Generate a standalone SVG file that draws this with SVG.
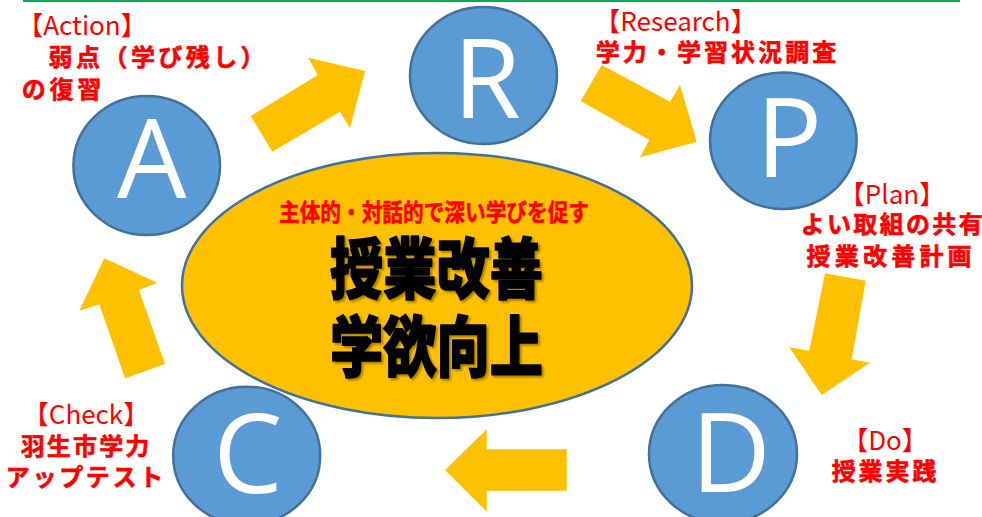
<svg xmlns="http://www.w3.org/2000/svg" width="982" height="517" viewBox="0 0 982 517">
  <defs>
    <style>
      .circ { fill: #5B9BD5; stroke: #41719C; stroke-width: 2.5; }
      .letter { fill: #FFFFFF; font-family: "Open Sans", "Liberation Sans", sans-serif; font-size: 110px; text-anchor: middle; }
      .arrow { fill: #FFC000; }
      .lbl { fill: #FF0000; stroke: #FF0000; stroke-width: 0.6; font-family: "Noto Sans CJK JP", "Noto Sans", sans-serif; font-size: 24px; font-weight: bold; }
      .brk { fill: #FF0000; font-family: "Noto Sans CJK JP", "Noto Sans", sans-serif; font-size: 26px; text-anchor: middle; }
      .big { fill: #000000; stroke: #000000; stroke-width: 1.6; stroke-linejoin: round; font-family: "Noto Sans CJK JP", sans-serif; font-size: 66px; font-weight: 900; }
    </style>
    <filter id="shadow" x="-10%" y="-10%" width="120%" height="130%">
      <feDropShadow dx="2" dy="2" stdDeviation="1" flood-color="#000000" flood-opacity="0.35"/>
    </filter>
  </defs>

  <rect width="982" height="517" fill="#FFFFFF"/>
  <line x1="23" y1="1" x2="960" y2="1" stroke="#00B050" stroke-width="2"/>

  <g id="center">
    <ellipse cx="437" cy="285.5" rx="255" ry="132.5" fill="#FFC000" stroke="#41719C" stroke-width="2.5"/>
    <text class="lbl" x="279" y="221" font-size="23" textLength="310" lengthAdjust="spacingAndGlyphs">主体的・対話的で深い学びを促す</text>
    <g filter="url(#shadow)">
      <text class="big" x="330" y="293" textLength="213" lengthAdjust="spacingAndGlyphs">授業改善</text>
      <text class="big" x="330" y="371" textLength="213" lengthAdjust="spacingAndGlyphs">学欲向上</text>
    </g>
  </g>

  <g id="connectors">
    <polygon class="arrow" points="250.7,116 317.7,75 308.3,57.7 365,71 350,128.3 340,111.7 272.3,151.7"/>
    <polygon class="arrow" points="601.7,65 670,101.7 680,85 696.7,141.7 640,157.3 649.3,140 580.7,101"/>
    <polygon class="arrow" points="825,273.3 865.7,280.7 851.7,359.3 870,362.7 821.7,395 789.3,347.3 809.3,350.7"/>
    <polygon class="arrow" points="445,470 486.7,429.3 486.7,449.3 566.7,449.3 566.7,490.7 486.7,490.7 486.7,511.7"/>
    <polygon class="arrow" points="104.3,258.3 157.3,282.7 139,290 165,364 125,378.3 99.3,304.3 79.3,310.7"/>
  </g>

  <g id="node-R">
    <ellipse class="circ" cx="483.5" cy="75.5" rx="73.5" ry="68.5"/>
    <text class="letter" x="487" y="118">R</text>
    <text class="brk" x="675.5" y="31">【Research】</text>
    <text class="lbl" x="595.7" y="61" textLength="240.5">学力・学習状況調査</text>
  </g>

  <g id="node-P">
    <ellipse class="circ" cx="783.3" cy="140.7" rx="73.3" ry="68.3"/>
    <text class="letter" x="789" y="177">P</text>
    <text class="brk" x="892" y="204">【Plan】</text>
    <text class="lbl" x="800.7" y="233" textLength="182">よい取組の共有</text>
    <text class="lbl" x="806.6" y="265" textLength="165">授業改善計画</text>
  </g>

  <g id="node-D">
    <ellipse class="circ" cx="723" cy="454" rx="74" ry="69"/>
    <text class="letter" x="731" y="492">D</text>
    <text class="brk" x="885" y="450">【Do】</text>
    <text class="lbl" x="831.7" y="480" textLength="104.6">授業実践</text>
  </g>

  <g id="node-C">
    <ellipse class="circ" cx="246.7" cy="455.7" rx="73.5" ry="69"/>
    <text class="letter" x="248" y="493">C</text>
    <text class="brk" x="86" y="424">【Check】</text>
    <text class="lbl" x="20.7" y="455" textLength="128.6">羽生市学力</text>
    <text class="lbl" x="5.7" y="486" textLength="157.6">アップテスト</text>
  </g>

  <g id="node-A">
    <ellipse class="circ" cx="146.7" cy="165.5" rx="73.3" ry="69.5"/>
    <text class="letter" x="151.7" y="198">A</text>
    <text class="brk" x="82" y="35">【Action】</text>
    <text class="lbl" x="48.6" y="66" textLength="216">弱点（学び残し）</text>
    <text class="lbl" x="21.7" y="98" textLength="79.5">の復習</text>
  </g>
</svg>
